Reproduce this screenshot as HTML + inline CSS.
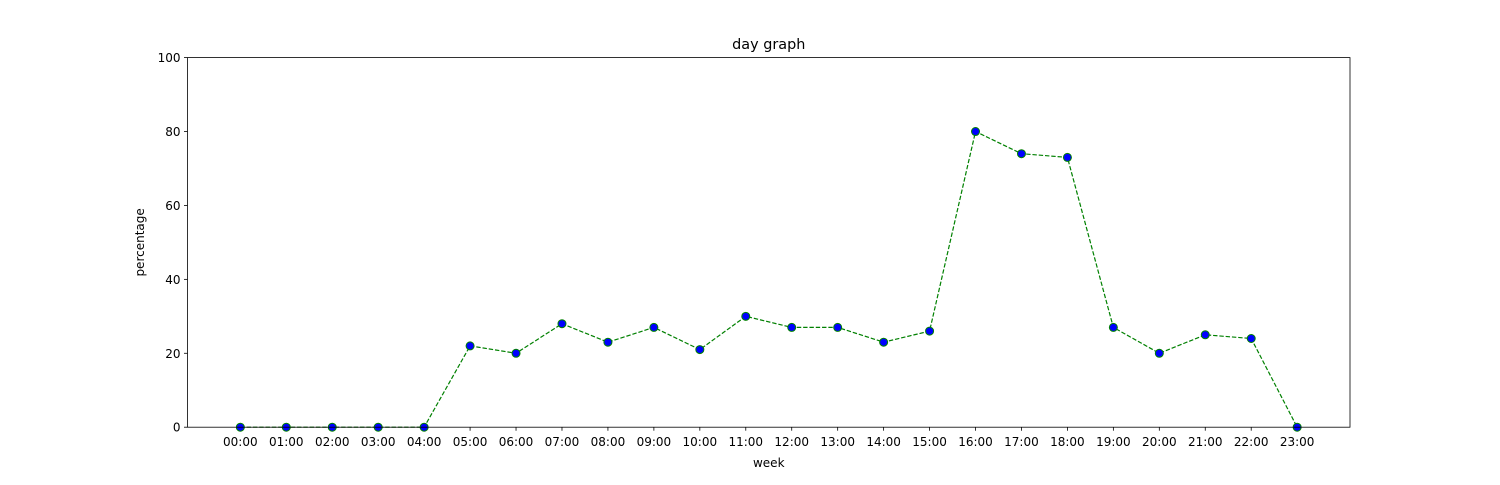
<!DOCTYPE html>
<html><head><meta charset="utf-8"><style>
body{margin:0;background:#fff;}
svg text{font-family:"DejaVu Sans","Liberation Sans",sans-serif;}
</style></head><body>
<svg id="chart" width="1500" height="480" xmlns="http://www.w3.org/2000/svg">
<rect width="1500" height="480" fill="#fff"/>
<text x="768.75" y="49" text-anchor="middle" font-size="14.4">day graph</text>
<g id="plot"></g>
<text x="768.75" y="467" text-anchor="middle" font-size="12">week</text>
<text transform="translate(144,242.4) rotate(-90)" text-anchor="middle" font-size="12">percentage</text>
</svg>
<script>
const categories=["00:00","01:00","02:00","03:00","04:00","05:00","06:00","07:00","08:00","09:00","10:00","11:00","12:00","13:00","14:00","15:00","16:00","17:00","18:00","19:00","20:00","21:00","22:00","23:00"];
const values=[0,0,0,0,0,22,20,28,23,27,21,30,27,27,23,26,80,74,73,27,20,25,24,0];
const yTicks=[0,20,40,60,80,100];
const L=187.5,R=1350,T=57.6,B=427.2;
const n=categories.length;
const xmin=-0.05*(n-1),xmax=(n-1)*1.05;
const xs=i=>L+(i-xmin)/(xmax-xmin)*(R-L);
const ys=v=>B-(v/100)*(B-T);
const NS="http://www.w3.org/2000/svg";
const g=document.getElementById('plot');
function mk(t,a){const e=document.createElementNS(NS,t);for(const k in a)e.setAttribute(k,a[k]);g.appendChild(e);return e;}
yTicks.forEach(v=>{
 const l=mk('line',{x1:L-3.5,x2:L,y1:ys(v),y2:ys(v),stroke:'#000','stroke-width':0.8});
 
 
 const t=mk('text',{x:L-7,y:ys(v)+4.5,'text-anchor':'end','font-size':12});
 t.textContent=v;
 
 
});
categories.forEach((c,i)=>{
 const l=mk('line',{x1:xs(i),x2:xs(i),y1:B,y2:B+3.5,stroke:'#000','stroke-width':0.8});
 
 
 const t=mk('text',{x:xs(i),y:B+19,'text-anchor':'middle','font-size':12});
 t.textContent=c;
 
 
});
const pl=mk('polyline',{points:values.map((v,i)=>xs(i)+','+ys(v)).join(' '),fill:'none',stroke:'green','stroke-width':1.2,'stroke-dasharray':'4.4,1.9'});


values.forEach((v,i)=>{
 const c=mk('circle',{cx:xs(i),cy:ys(v),r:4,fill:'blue',stroke:'green','stroke-width':1});
 
 
});
const f=mk('rect',{x:L,y:T,width:R-L,height:B-T,fill:'none',stroke:'#000','stroke-width':0.8});


</script>
</body></html>
